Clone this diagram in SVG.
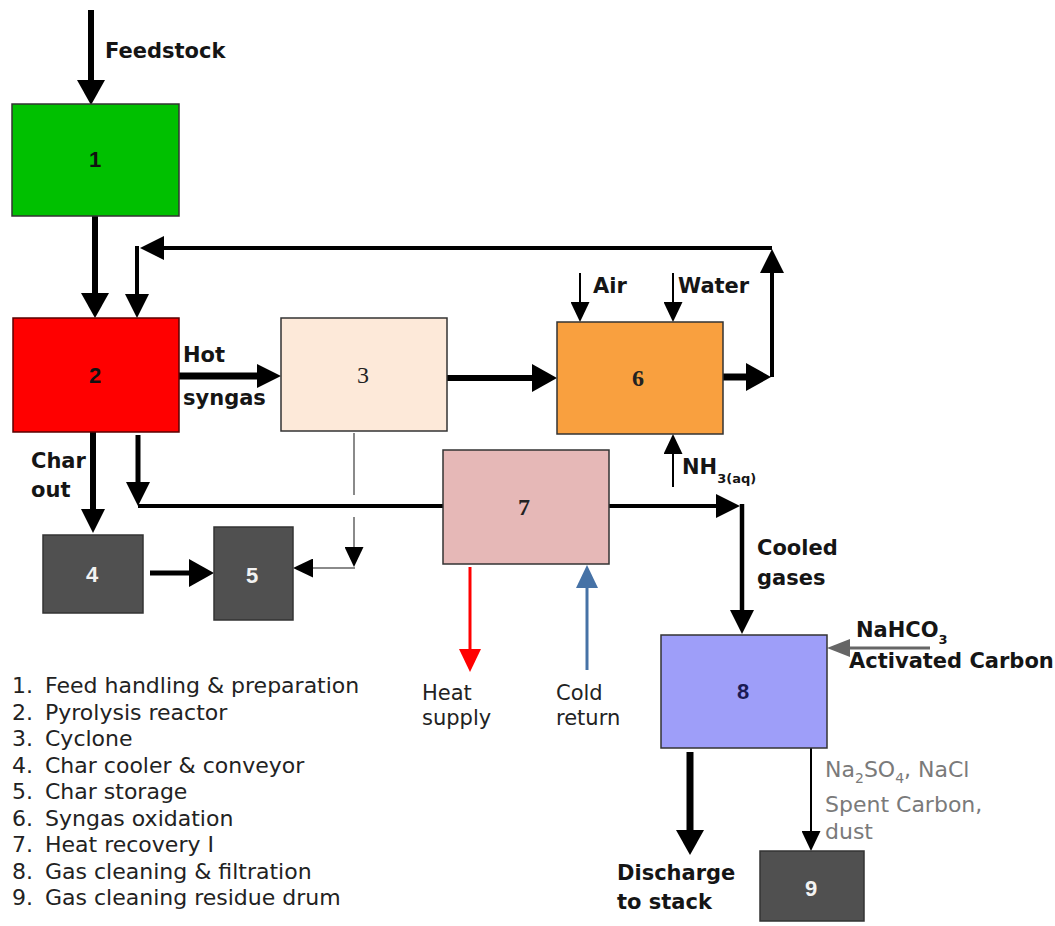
<svg xmlns="http://www.w3.org/2000/svg" width="1055" height="926" viewBox="0 0 1055 926">
<style>
.lbl{font-family:"DejaVu Sans",Verdana,sans-serif;font-size:21px;font-weight:bold;fill:#151515}
.lbn{font-family:"DejaVu Sans",Verdana,sans-serif;font-size:21px;fill:#222}
.gry{font-family:"DejaVu Sans",Verdana,sans-serif;font-size:22px;fill:#7a7a7a}
.leg{font-family:"DejaVu Sans",Verdana,sans-serif;font-size:22px;fill:#222}
.num{font-family:"Liberation Sans",Arial,sans-serif;font-size:22px;font-weight:bold;text-anchor:middle}
.numS{font-family:"Liberation Serif","Times New Roman",serif;font-size:24px;text-anchor:middle;fill:#222}
.box{stroke:#333;stroke-width:1.5}
.k{fill:none;stroke:#000}
</style>
<defs>
<marker id="big" markerUnits="userSpaceOnUse" markerWidth="25" markerHeight="28" refX="0" refY="14" orient="auto"><path d="M0,0 L25,14 L0,28 z" fill="#000"/></marker>
<marker id="med" markerUnits="userSpaceOnUse" markerWidth="24" markerHeight="24" refX="0" refY="12" orient="auto"><path d="M0,0 L24,12 L0,24 z" fill="#000"/></marker>
<marker id="sm" markerUnits="userSpaceOnUse" markerWidth="20" markerHeight="19" refX="0" refY="9.5" orient="auto"><path d="M0,0 L20,9.5 L0,19 z" fill="#000"/></marker>
<marker id="red" markerUnits="userSpaceOnUse" markerWidth="23" markerHeight="22" refX="0" refY="11" orient="auto"><path d="M0,0 L23,11 L0,22 z" fill="#ff0000"/></marker>
<marker id="blue" markerUnits="userSpaceOnUse" markerWidth="23" markerHeight="22" refX="0" refY="11" orient="auto"><path d="M0,0 L23,11 L0,22 z" fill="#4672a6"/></marker>
<marker id="gry" markerUnits="userSpaceOnUse" markerWidth="23" markerHeight="18" refX="0" refY="9" orient="auto"><path d="M0,0 L23,9 L0,18 z" fill="#666"/></marker>
</defs>
<rect width="1055" height="926" fill="#fff"/>

<g id="connectors">
<path class="k" stroke-width="6" d="M91,10 L91,80" marker-end="url(#big)"/>
<path class="k" stroke-width="6" d="M95,216 L95,293" marker-end="url(#big)"/>
<path class="k" stroke-width="4" d="M772,377 L772,273" marker-end="url(#med)"/>
<path class="k" stroke-width="4" d="M772,248 L164,248" marker-end="url(#med)"/>
<path class="k" stroke-width="4" d="M137,246 L137,294" marker-end="url(#med)"/>
<path class="k" stroke-width="7" d="M179,376 L257,376" marker-end="url(#med)"/>
<path class="k" stroke-width="6" d="M447,378 L532,378" marker-end="url(#big)"/>
<path class="k" stroke-width="7" d="M723,377 L746,377" marker-end="url(#big)"/>
<path class="k" stroke-width="6" d="M93,432 L93,509" marker-end="url(#med)"/>
<path class="k" stroke-width="5" d="M138,435 L138,482" marker-end="url(#med)"/>
<path class="k" stroke-width="4" d="M138,506 L443,506"/>
<path class="k" stroke-width="4" d="M609,506 L716,506" marker-end="url(#med)"/>
<path class="k" stroke-width="4.5" d="M742,504 L742,610" marker-end="url(#med)"/>
<path fill="none" stroke="#8a8a8a" stroke-width="2" d="M354,433 L354,495 M354,517 L354,547" marker-end="url(#sm)"/>
<path fill="none" stroke="#8a8a8a" stroke-width="2" d="M355,568 L313,568" marker-end="url(#sm)"/>
<path class="k" stroke-width="5" d="M150,573 L189,573" marker-end="url(#big)"/>
<path fill="none" stroke="#ff0000" stroke-width="3" d="M470,567 L470,649" marker-end="url(#red)"/>
<path fill="none" stroke="#4672a6" stroke-width="3" d="M587,670 L587,588" marker-end="url(#blue)"/>
<path class="k" stroke-width="2" d="M580,273 L580,302" marker-end="url(#sm)"/>
<path class="k" stroke-width="2" d="M673,273 L673,302" marker-end="url(#sm)"/>
<path class="k" stroke-width="2" d="M673,487 L673,454" marker-end="url(#sm)"/>
<path fill="none" stroke="#666" stroke-width="3" d="M930,648 L850,648" marker-end="url(#gry)"/>
<path class="k" stroke-width="7" d="M690,752 L690,830" marker-end="url(#big)"/>
<path class="k" stroke-width="2" d="M811,748 L811,831" marker-end="url(#sm)"/>
</g>

<g id="node1"><rect class="box" x="12" y="104" width="167" height="112" fill="#00c000"/><text class="num" x="95" y="167" fill="#111">1</text></g>
<g id="node2"><rect x="13" y="318" width="166" height="114" fill="#ff0000" stroke="#5a0000" stroke-width="1.5"/><text class="num" x="95" y="383" font-size="24" fill="#111">2</text></g>
<g id="node3"><rect class="box" x="281" y="318" width="166" height="113" fill="#fde9d9"/><text class="numS" x="363" y="383">3</text></g>
<g id="node4"><rect class="box" x="43" y="535" width="100" height="78" fill="#505050"/><text class="num" x="92" y="582" fill="#f2f2f2">4</text></g>
<g id="node5"><rect class="box" x="214" y="527" width="79" height="93" fill="#505050"/><text class="num" x="252" y="583" fill="#f2f2f2">5</text></g>
<g id="node6"><rect class="box" x="557" y="322" width="166" height="112" fill="#f9a03f"/><text class="numS" x="638" y="386" font-weight="bold">6</text></g>
<g id="node7"><rect class="box" x="443" y="450" width="166" height="114" fill="#e6b8b7"/><text class="numS" x="524" y="515" font-weight="bold">7</text></g>
<g id="node8"><rect class="box" x="661" y="635" width="166" height="113" fill="#9e9ef9"/><text class="num" x="743" y="699" font-weight="normal" fill="#1a1a55">8</text></g>
<g id="node9"><rect class="box" x="760" y="851" width="104" height="70" fill="#505050"/><text class="num" x="811" y="896" fill="#f2f2f2">9</text></g>

<g id="labels">
<text class="lbl" x="105" y="58">Feedstock</text>
<text class="lbl" x="183" y="362">Hot</text>
<text class="lbl" x="183" y="405">syngas</text>
<text class="lbl" x="31" y="468">Char</text>
<text class="lbl" x="31" y="497">out</text>
<text class="lbl" x="593" y="293">Air</text>
<text class="lbl" x="678" y="293">Water</text>
<text class="lbl" x="682" y="474">NH<tspan font-size="13" dy="9">3(aq)</tspan></text>
<text class="lbl" x="757" y="555">Cooled</text>
<text class="lbl" x="757" y="585">gases</text>
<text class="lbn" x="422" y="700">Heat</text>
<text class="lbn" x="422" y="725">supply</text>
<text class="lbn" x="556" y="700">Cold</text>
<text class="lbn" x="556" y="725">return</text>
<text class="lbl" x="856" y="637">NaHCO<tspan font-size="13" dy="7">3</tspan></text>
<text class="lbl" x="849" y="668">Activated Carbon</text>
<text class="gry" x="825" y="777">Na<tspan font-size="14" dy="6">2</tspan><tspan dy="-6">SO</tspan><tspan font-size="14" dy="6">4</tspan><tspan dy="-6">, NaCl</tspan></text>
<text class="gry" x="825" y="812">Spent Carbon,</text>
<text class="gry" x="825" y="839">dust</text>
<text class="lbl" x="617" y="880">Discharge</text>
<text class="lbl" x="617" y="909">to stack</text>
</g>

<g id="legend">
<text class="leg" x="12" y="693">1.</text><text class="leg" x="45" y="693">Feed handling &amp; preparation</text>
<text class="leg" x="12" y="720">2.</text><text class="leg" x="45" y="720">Pyrolysis reactor</text>
<text class="leg" x="12" y="746">3.</text><text class="leg" x="45" y="746">Cyclone</text>
<text class="leg" x="12" y="773">4.</text><text class="leg" x="45" y="773">Char cooler &amp; conveyor</text>
<text class="leg" x="12" y="799">5.</text><text class="leg" x="45" y="799">Char storage</text>
<text class="leg" x="12" y="826">6.</text><text class="leg" x="45" y="826">Syngas oxidation</text>
<text class="leg" x="12" y="852">7.</text><text class="leg" x="45" y="852">Heat recovery I</text>
<text class="leg" x="12" y="879">8.</text><text class="leg" x="45" y="879">Gas cleaning &amp; filtration</text>
<text class="leg" x="12" y="905">9.</text><text class="leg" x="45" y="905">Gas cleaning residue drum</text>
</g>
</svg>
